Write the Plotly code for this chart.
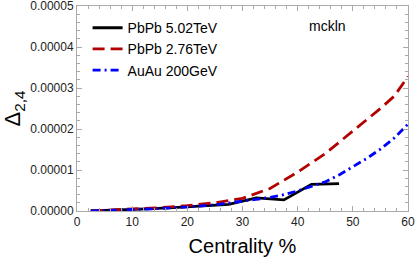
import plotly.graph_objects as go

x_pb502 = [2.5, 7.5, 12.5, 17.5, 22.5, 27.5, 32.5, 37.5, 42.5, 47.5]
y_pb502 = [0.0, 0.02e-5, 0.05e-5, 0.08e-5, 0.12e-5, 0.16e-5, 0.32e-5, 0.27e-5, 0.65e-5, 0.67e-5]

x_pb276 = [2.5, 5, 10, 15, 20, 25, 30, 35, 40, 45, 50, 55, 57.5, 60]
y_pb276 = [0.0, 0.02e-5, 0.05e-5, 0.08e-5, 0.13e-5, 0.2e-5, 0.31e-5, 0.55e-5, 0.95e-5, 1.4e-5, 1.95e-5, 2.5e-5, 2.8e-5, 3.28e-5]

x_au200 = [2.5, 5, 10, 15, 20, 25, 30, 32.5, 35, 37.5, 40, 42.5, 45, 47.5, 50, 52.5, 55, 57.5, 60]
y_au200 = [0.0, 0.01e-5, 0.03e-5, 0.06e-5, 0.1e-5, 0.15e-5, 0.24e-5, 0.29e-5, 0.33e-5, 0.40e-5,
           0.49e-5, 0.6e-5, 0.71e-5, 0.88e-5, 1.07e-5, 1.28e-5, 1.51e-5, 1.78e-5, 2.12e-5]

names = ["PbPb 5.02TeV", "PbPb 2.76TeV", "AuAu 200GeV"]
x_ticks = [0, 10, 20, 30, 40, 50, 60]
y_ticks = [0, 1e-5, 2e-5, 3e-5, 4e-5, 5e-5]
y_ticktext = ["0.00000", "0.00001", "0.00002", "0.00003", "0.00004", "0.00005"]

FONT = "Liberation Sans, Arial"

fig = go.Figure()
fig.add_trace(go.Scatter(x=x_pb502, y=y_pb502, mode="lines", name=names[0],
                         line=dict(color="black", width=2.8)))
fig.add_trace(go.Scatter(x=x_pb276, y=y_pb276, mode="lines", name=names[1],
                         line=dict(color="#b30000", width=2.8, dash="12px,6px")))
fig.add_trace(go.Scatter(x=x_au200, y=y_au200, mode="lines", name=names[2],
                         line=dict(color="#0000ff", width=2.8, dash="8px,4px,2px,4px")))

axis_common = dict(showline=True, linecolor="#aaaaaa", linewidth=1, mirror="allticks",
                   ticks="inside", ticklen=5, tickcolor="#aaaaaa", showgrid=False, zeroline=False,
                   automargin=False, ticklabeloverflow="allow",
                   tickfont=dict(family=FONT, size=12, color="#222"))

fig.update_xaxes(range=[0, 60], tickvals=x_ticks,
                 minor=dict(dtick=2, ticks="inside", ticklen=3, tickcolor="#aaaaaa"),
                 title=dict(text="Centrality %", font=dict(family=FONT, size=20, color="black")),
                 **axis_common)
fig.update_yaxes(range=[0, 5e-5], tickvals=y_ticks, ticktext=y_ticktext,
                 minor=dict(dtick=2e-6, ticks="inside", ticklen=3, tickcolor="#aaaaaa"),
                 title=dict(text="Δ<sub>2,4</sub>", font=dict(family=FONT, size=22, color="black")),
                 **axis_common)

fig.add_annotation(x=0.758, y=0.9, xref="paper", yref="paper", text="mckln", showarrow=False,
                   xanchor="center", yanchor="middle",
                   font=dict(family=FONT, size=14, color="black"))

fig.update_layout(width=415, height=257, margin=dict(l=77, r=7, t=6, b=46),
                  plot_bgcolor="white", paper_bgcolor="white",
                  legend=dict(x=0.032, y=0.97, xanchor="left", yanchor="top", bgcolor="rgba(0,0,0,0)",
                              font=dict(family=FONT, size=14, color="black"),
                              tracegroupgap=0))

fig.write_html("out.html", config={"displayModeBar": False},
               post_script="document.body.style.margin='0';")
